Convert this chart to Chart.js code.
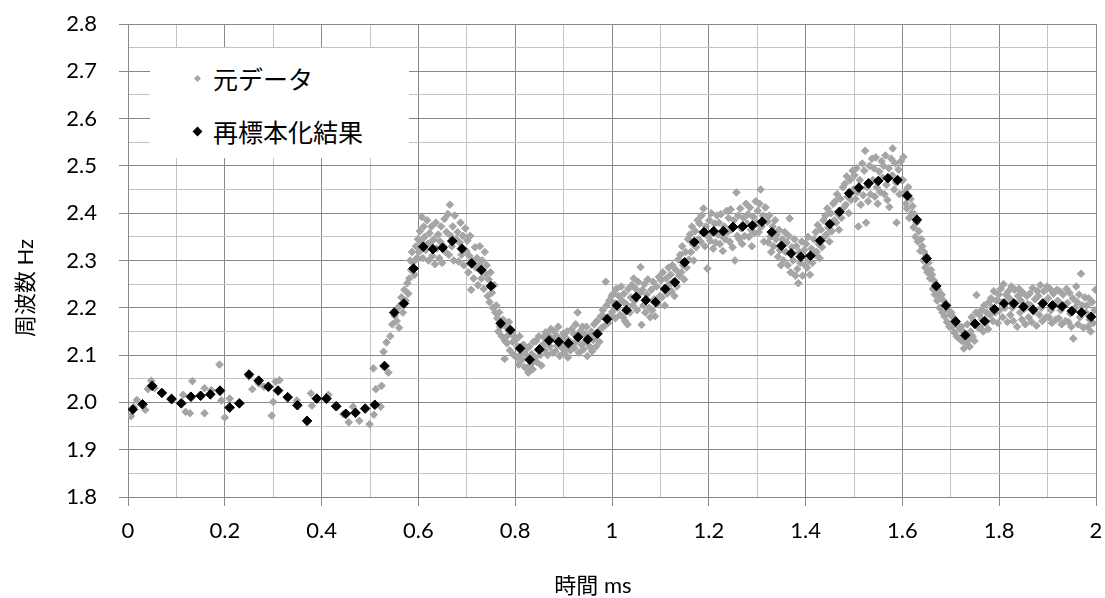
<!DOCTYPE html>
<html>
<head>
<meta charset="utf-8">
<script src="https://cdn.jsdelivr.net/npm/chart.js@4"></script>
<style>
  body { margin: 0; background: #fff; }
  #wrap { position: relative; width: 1105px; height: 598px; }
  #legend {
    position: absolute; left: 150px; top: 48px; width: 259px; height: 110px;
    background: #fff; font: 25px "Noto Sans CJK JP", sans-serif; color: #000;
  }
  #legend .row { position: absolute; left: 0; height: 30px; line-height: 30px; }
  #legend .mark { position: absolute; transform: rotate(45deg); }
  #legend .label { position: absolute; left: 63px; top: 0; white-space: nowrap; }
</style>
</head>
<body>
<div id="wrap">
  <canvas id="freqChart" width="1105" height="598"></canvas>
  <div id="legend"></div>
</div>
<script>
// Axis titles and legend labels
const xTitle = "時間 ms";
const yTitle = "周波数 Hz";
const rawLabel = "元データ";
const resampledLabel = "再標本化結果";

// Resampled result, one point every 0.02 ms
const resampledTime = [
  0.01, 0.03, 0.05, 0.07, 0.09, 0.11, 0.13, 0.15, 0.17, 0.19,
  0.21, 0.23, 0.25, 0.27, 0.29, 0.31, 0.33, 0.35, 0.37, 0.39,
  0.41, 0.43, 0.45, 0.47, 0.49, 0.51, 0.53, 0.55, 0.57, 0.59,
  0.61, 0.63, 0.65, 0.67, 0.69, 0.71, 0.73, 0.75, 0.77, 0.79,
  0.81, 0.83, 0.85, 0.87, 0.89, 0.91, 0.93, 0.95, 0.97, 0.99,
  1.01, 1.03, 1.05, 1.07, 1.09, 1.11, 1.13, 1.15, 1.17, 1.19,
  1.21, 1.23, 1.25, 1.27, 1.29, 1.31, 1.33, 1.35, 1.37, 1.39,
  1.41, 1.43, 1.45, 1.47, 1.49, 1.51, 1.53, 1.55, 1.57, 1.59,
  1.61, 1.63, 1.65, 1.67, 1.69, 1.71, 1.73, 1.75, 1.77, 1.79,
  1.81, 1.83, 1.85, 1.87, 1.89, 1.91, 1.93, 1.95, 1.97, 1.99
];
const resampledFreq = [
  1.985, 1.996, 2.035, 2.020, 2.007, 1.998, 2.012, 2.014, 2.017, 2.025,
  1.989, 1.998, 2.059, 2.046, 2.033, 2.025, 2.011, 1.994, 1.961, 2.008,
  2.008, 1.992, 1.976, 1.978, 1.987, 1.995, 2.077, 2.190, 2.209, 2.283,
  2.329, 2.324, 2.327, 2.341, 2.325, 2.294, 2.280, 2.246, 2.167, 2.153,
  2.114, 2.090, 2.112, 2.131, 2.128, 2.125, 2.138, 2.133, 2.145, 2.176,
  2.205, 2.195, 2.223, 2.216, 2.212, 2.240, 2.254, 2.296, 2.339, 2.360,
  2.362, 2.362, 2.371, 2.372, 2.374, 2.382, 2.360, 2.331, 2.315, 2.308,
  2.310, 2.342, 2.377, 2.403, 2.442, 2.454, 2.463, 2.468, 2.474, 2.470,
  2.437, 2.386, 2.304, 2.246, 2.205, 2.171, 2.142, 2.166, 2.172, 2.197,
  2.209, 2.209, 2.202, 2.196, 2.209, 2.205, 2.203, 2.193, 2.190, 2.181
];

// Raw measurements [time ms, frequency Hz]
const rawPoints = [
  [0.006,1.971],[0.012,1.990],[0.018,2.005],[0.036,1.984],[0.041,2.028],[0.048,2.046],[0.055,2.030],[0.090,2.010],
  [0.114,2.016],[0.119,1.980],[0.128,1.977],[0.133,2.045],[0.150,2.015],[0.158,1.977],[0.158,2.030],[0.172,2.026],
  [0.189,2.080],[0.190,2.022],[0.193,2.004],[0.200,1.968],[0.210,2.008],[0.250,2.055],[0.257,2.028],[0.270,2.040],
  [0.281,2.033],[0.297,1.972],[0.300,2.001],[0.305,2.044],[0.313,2.047],[0.330,2.012],[0.349,2.004],[0.378,2.019],
  [0.380,1.993],[0.410,2.005],[0.414,2.016],[0.433,1.991],[0.445,1.975],[0.456,1.958],[0.465,1.991],[0.478,1.961],
  [0.499,1.954],[0.507,2.072],[0.508,1.974],[0.512,2.028],[0.522,1.991],[0.524,2.035],[0.528,2.107],[0.534,2.127],
  [0.538,2.063],
  [0.542,2.140],[0.546,2.165],[0.551,2.183],[0.555,2.172],[0.558,2.200],[0.560,2.158],
  [0.562,2.205],[0.565,2.222],[0.568,2.190],[0.571,2.238],[0.574,2.215],[0.577,2.252],[0.579,2.230],
  [0.581,2.262],[0.583,2.300],[0.585,2.280],[0.587,2.318],[0.589,2.296],[0.592,2.270],[0.595,2.330],[0.597,2.305],[0.599,2.345],
  [0.601,2.318],[0.603,2.362],[0.605,2.340],[0.607,2.392],[0.609,2.305],[0.611,2.372],[0.613,2.350],[0.615,2.322],[0.618,2.385],[0.619,2.335],
  [0.621,2.300],[0.623,2.358],[0.625,2.338],[0.627,2.372],[0.629,2.310],[0.632,2.345],[0.634,2.292],[0.636,2.380],[0.638,2.325],
  [0.641,2.355],[0.643,2.305],[0.645,2.340],[0.647,2.372],[0.649,2.295],[0.652,2.330],[0.654,2.388],[0.656,2.318],[0.658,2.360],
  [0.661,2.398],[0.663,2.312],[0.665,2.418],[0.667,2.352],[0.669,2.330],[0.671,2.372],[0.673,2.300],[0.675,2.395],[0.678,2.345],
  [0.681,2.360],[0.683,2.298],[0.685,2.338],[0.687,2.380],[0.689,2.312],[0.692,2.352],[0.694,2.290],[0.697,2.368],[0.699,2.320],
  [0.701,2.342],[0.703,2.275],[0.705,2.310],[0.707,2.352],[0.709,2.238],[0.712,2.300],[0.714,2.262],[0.717,2.328],[0.719,2.285],
  [0.721,2.305],[0.723,2.248],[0.725,2.290],[0.727,2.330],[0.730,2.262],[0.732,2.300],[0.735,2.240],[0.737,2.318],[0.739,2.272],
  [0.741,2.290],[0.743,2.225],[0.745,2.260],[0.747,2.212],[0.749,2.275],[0.752,2.232],[0.754,2.200],[0.757,2.248],[0.759,2.190],
  [0.761,2.205],[0.763,2.178],[0.765,2.150],[0.767,2.190],[0.769,2.160],[0.772,2.140],[0.775,2.175],[0.778,2.092],[0.779,2.130],
  [0.781,2.160],[0.783,2.125],[0.785,2.142],[0.787,2.170],[0.789,2.110],[0.792,2.150],[0.795,2.128],[0.797,2.100],[0.799,2.138],
  [0.801,2.132],[0.803,2.095],[0.805,2.118],[0.807,2.080],[0.809,2.140],[0.812,2.102],[0.814,2.090],[0.817,2.122],[0.819,2.075],
  [0.821,2.110],[0.823,2.072],[0.825,2.098],[0.827,2.063],[0.829,2.118],[0.832,2.080],[0.834,2.102],[0.836,2.070],[0.838,2.128],
  [0.841,2.095],[0.843,2.130],[0.845,2.085],[0.847,2.110],[0.849,2.140],[0.852,2.100],[0.854,2.078],[0.857,2.122],[0.859,2.138],
  [0.861,2.110],[0.863,2.148],[0.865,2.125],[0.867,2.100],[0.869,2.142],[0.872,2.118],[0.874,2.155],[0.877,2.105],[0.879,2.135],
  [0.881,2.150],[0.883,2.108],[0.885,2.140],[0.887,2.120],[0.889,2.160],[0.892,2.098],[0.894,2.132],[0.897,2.115],[0.899,2.145],
  [0.901,2.105],[0.903,2.138],[0.905,2.118],[0.907,2.150],[0.909,2.095],[0.912,2.130],[0.914,2.110],[0.917,2.155],[0.919,2.122],
  [0.921,2.145],[0.923,2.115],[0.925,2.165],[0.927,2.130],[0.929,2.190],[0.932,2.105],[0.934,2.150],[0.937,2.122],[0.939,2.160],
  [0.941,2.112],[0.943,2.145],[0.945,2.128],[0.947,2.160],[0.949,2.098],[0.952,2.138],[0.954,2.118],[0.957,2.150],[0.959,2.108],
  [0.961,2.132],[0.963,2.165],[0.965,2.140],[0.967,2.118],[0.969,2.172],[0.972,2.150],[0.974,2.128],[0.977,2.182],[0.979,2.158],
  [0.981,2.195],[0.983,2.160],[0.985,2.180],[0.987,2.255],[0.989,2.205],[0.992,2.168],[0.994,2.215],[0.997,2.185],[0.999,2.225],
  [1.001,2.192],[1.003,2.230],[1.005,2.210],[1.007,2.178],[1.009,2.240],[1.012,2.200],[1.014,2.225],[1.017,2.185],[1.019,2.245],
  [1.021,2.215],[1.023,2.180],[1.025,2.230],[1.027,2.172],[1.029,2.208],[1.032,2.165],[1.034,2.240],[1.037,2.190],[1.039,2.222],
  [1.041,2.248],[1.043,2.205],[1.045,2.262],[1.047,2.215],[1.049,2.240],[1.052,2.195],[1.054,2.255],[1.057,2.230],[1.059,2.286],
  [1.061,2.164],[1.063,2.238],[1.065,2.205],[1.067,2.250],[1.069,2.190],[1.072,2.228],[1.074,2.260],[1.077,2.200],[1.079,2.180],
  [1.081,2.238],[1.083,2.195],[1.085,2.255],[1.087,2.218],[1.089,2.182],[1.092,2.245],[1.094,2.208],[1.097,2.265],[1.099,2.225],
  [1.101,2.258],[1.103,2.222],[1.105,2.275],[1.107,2.240],[1.109,2.205],[1.112,2.262],[1.114,2.230],[1.117,2.285],[1.119,2.250],
  [1.121,2.270],[1.123,2.235],[1.125,2.290],[1.127,2.255],[1.129,2.225],[1.132,2.280],[1.134,2.245],[1.137,2.302],[1.139,2.268],
  [1.141,2.312],[1.143,2.275],[1.145,2.330],[1.147,2.290],[1.149,2.260],[1.152,2.318],[1.154,2.285],[1.157,2.345],[1.159,2.302],
  [1.161,2.355],[1.163,2.318],[1.165,2.372],[1.167,2.335],[1.169,2.300],[1.172,2.362],[1.174,2.328],[1.177,2.385],[1.179,2.345],
  [1.181,2.378],[1.183,2.340],[1.185,2.395],[1.187,2.358],[1.189,2.410],[1.192,2.330],[1.194,2.372],[1.197,2.283],[1.199,2.350],
  [1.201,2.385],[1.203,2.342],[1.205,2.400],[1.207,2.360],[1.209,2.325],[1.212,2.378],[1.214,2.338],[1.217,2.395],[1.219,2.355],
  [1.221,2.380],[1.223,2.335],[1.225,2.398],[1.227,2.352],[1.229,2.320],[1.232,2.372],[1.234,2.345],[1.237,2.405],[1.239,2.360],
  [1.241,2.390],[1.243,2.340],[1.245,2.408],[1.247,2.365],[1.249,2.328],[1.252,2.385],[1.254,2.300],[1.257,2.444],[1.259,2.352],
  [1.261,2.395],[1.263,2.345],[1.265,2.410],[1.267,2.368],[1.269,2.335],[1.272,2.390],[1.274,2.352],[1.277,2.420],[1.279,2.378],
  [1.281,2.398],[1.283,2.350],[1.285,2.412],[1.287,2.365],[1.289,2.330],[1.292,2.392],[1.294,2.358],[1.297,2.425],[1.299,2.380],
  [1.301,2.405],[1.303,2.360],[1.305,2.420],[1.307,2.450],[1.309,2.372],[1.312,2.395],[1.314,2.340],[1.317,2.412],[1.319,2.385],
  [1.321,2.382],[1.323,2.338],[1.325,2.395],[1.327,2.350],[1.329,2.318],[1.332,2.372],[1.334,2.330],[1.337,2.385],[1.339,2.345],
  [1.341,2.355],[1.343,2.308],[1.345,2.365],[1.347,2.322],[1.349,2.290],[1.352,2.345],[1.354,2.300],[1.357,2.360],[1.359,2.318],
  [1.361,2.338],[1.363,2.290],[1.365,2.352],[1.367,2.389],[1.369,2.275],[1.372,2.328],[1.374,2.300],[1.377,2.345],[1.379,2.268],
  [1.381,2.330],[1.383,2.282],[1.385,2.252],[1.387,2.318],[1.389,2.295],[1.392,2.340],[1.394,2.268],[1.397,2.322],[1.399,2.290],
  [1.401,2.335],[1.403,2.285],[1.405,2.350],[1.407,2.300],[1.409,2.270],[1.412,2.325],[1.414,2.295],[1.417,2.345],[1.419,2.312],
  [1.421,2.360],[1.423,2.318],[1.425,2.375],[1.427,2.335],[1.429,2.305],[1.432,2.365],[1.434,2.328],[1.437,2.385],[1.439,2.350],
  [1.441,2.395],[1.443,2.355],[1.445,2.410],[1.447,2.370],[1.449,2.340],[1.452,2.400],[1.454,2.362],[1.457,2.420],[1.459,2.385],
  [1.461,2.425],[1.463,2.380],[1.465,2.440],[1.467,2.398],[1.469,2.365],[1.472,2.430],[1.474,2.390],[1.477,2.455],[1.479,2.412],
  [1.481,2.462],[1.483,2.418],[1.485,2.478],[1.487,2.435],[1.489,2.400],[1.492,2.470],[1.494,2.428],[1.497,2.490],[1.499,2.450],
  [1.501,2.480],[1.503,2.430],[1.505,2.495],[1.507,2.445],[1.509,2.372],[1.512,2.470],[1.514,2.418],[1.517,2.505],[1.519,2.438],
  [1.521,2.490],[1.523,2.532],[1.525,2.380],[1.527,2.455],[1.529,2.425],[1.532,2.500],[1.534,2.440],[1.537,2.515],[1.539,2.470],
  [1.541,2.495],[1.543,2.435],[1.545,2.518],[1.547,2.455],[1.549,2.420],[1.552,2.488],[1.554,2.445],[1.557,2.510],[1.559,2.475],
  [1.561,2.500],[1.563,2.440],[1.565,2.522],[1.567,2.460],[1.569,2.428],[1.572,2.495],[1.573,2.413],[1.577,2.515],[1.579,2.480],
  [1.580,2.537],[1.583,2.450],[1.585,2.505],[1.587,2.465],[1.588,2.380],[1.592,2.492],[1.594,2.440],[1.597,2.510],[1.599,2.470],
  [1.601,2.470],[1.602,2.519],[1.605,2.445],[1.607,2.420],[1.609,2.410],[1.612,2.455],[1.614,2.390],[1.617,2.430],[1.619,2.400],
  [1.621,2.415],[1.623,2.370],[1.625,2.398],[1.627,2.350],[1.629,2.380],[1.632,2.340],[1.634,2.362],[1.637,2.320],[1.639,2.345],
  [1.641,2.330],[1.643,2.300],[1.645,2.318],[1.647,2.285],[1.649,2.310],[1.652,2.275],[1.654,2.295],[1.657,2.262],[1.659,2.280],
  [1.661,2.270],[1.663,2.240],[1.665,2.258],[1.667,2.228],[1.669,2.250],[1.672,2.215],[1.674,2.238],[1.677,2.200],[1.679,2.225],
  [1.681,2.228],[1.683,2.190],[1.685,2.215],[1.687,2.182],[1.689,2.205],[1.692,2.170],[1.694,2.195],[1.697,2.160],[1.699,2.185],
  [1.701,2.190],[1.703,2.160],[1.705,2.180],[1.707,2.148],[1.709,2.170],[1.712,2.140],[1.714,2.162],[1.717,2.135],[1.719,2.155],
  [1.721,2.160],[1.723,2.130],[1.725,2.150],[1.727,2.114],[1.729,2.142],[1.732,2.125],[1.734,2.165],[1.737,2.132],[1.739,2.118],
  [1.741,2.150],[1.743,2.180],[1.745,2.140],[1.747,2.172],[1.749,2.130],[1.752,2.190],[1.753,2.227],[1.757,2.158],[1.759,2.185],
  [1.761,2.160],[1.763,2.195],[1.765,2.175],[1.767,2.150],[1.769,2.205],[1.772,2.168],[1.774,2.190],[1.777,2.155],[1.779,2.212],
  [1.781,2.185],[1.783,2.220],[1.785,2.200],[1.787,2.172],[1.789,2.235],[1.792,2.190],[1.794,2.215],[1.797,2.168],[1.799,2.228],
  [1.801,2.195],[1.803,2.240],[1.805,2.212],[1.807,2.180],[1.809,2.250],[1.812,2.200],[1.814,2.228],[1.817,2.170],[1.819,2.235],
  [1.821,2.220],[1.823,2.185],[1.825,2.245],[1.827,2.200],[1.829,2.172],[1.832,2.238],[1.834,2.210],[1.837,2.160],[1.839,2.225],
  [1.841,2.240],[1.843,2.190],[1.845,2.215],[1.847,2.175],[1.849,2.232],[1.852,2.198],[1.854,2.165],[1.857,2.225],[1.859,2.208],
  [1.861,2.180],[1.863,2.230],[1.865,2.205],[1.867,2.170],[1.869,2.242],[1.872,2.192],[1.874,2.218],[1.877,2.162],[1.879,2.235],
  [1.881,2.225],[1.883,2.185],[1.885,2.248],[1.887,2.200],[1.889,2.172],[1.892,2.235],[1.894,2.212],[1.897,2.180],[1.899,2.245],
  [1.901,2.220],[1.903,2.180],[1.905,2.240],[1.907,2.195],[1.909,2.168],[1.912,2.230],[1.914,2.208],[1.917,2.175],[1.919,2.238],
  [1.921,2.215],[1.923,2.178],[1.925,2.235],[1.927,2.195],[1.929,2.165],[1.932,2.228],[1.934,2.205],[1.937,2.172],[1.939,2.240],
  [1.941,2.210],[1.943,2.170],[1.945,2.232],[1.947,2.188],[1.949,2.160],[1.952,2.220],[1.953,2.135],[1.957,2.200],[1.959,2.245],
  [1.961,2.212],[1.963,2.165],[1.965,2.228],[1.967,2.180],[1.969,2.272],[1.972,2.205],[1.974,2.158],[1.977,2.222],[1.979,2.190],
  [1.981,2.205],[1.983,2.160],[1.985,2.220],[1.987,2.175],[1.989,2.150],[1.992,2.212],[1.994,2.168],[1.997,2.195],[1.999,2.238]
];

const rawColor = '#a5a5a5';
const resampledColor = '#000000';
const majorGrid = '#878787';
const minorGrid = '#c3c3c3';
const tickFont = { family: 'Lato, "Noto Sans CJK JP", sans-serif', size: 22 };

// x grid every 0.1, labelled every 0.2; y grid every 0.05, labelled every 0.1
function isMajorX(v) { return Math.round(v * 10) % 2 === 0; }
function isMajorY(v) { return Math.round(v * 20) % 2 === 0; }

const axisTitles = {
  id: 'axisTitles',
  afterDraw(chart) {
    const ctx = chart.ctx;
    ctx.save();
    ctx.fillStyle = '#000';
    ctx.font = '22px Lato, "Noto Sans CJK JP", sans-serif';
    ctx.textAlign = 'center';
    ctx.textBaseline = 'middle';
    ctx.fillText(xTitle, 593, 586);
    ctx.translate(26, 288);
    ctx.rotate(-Math.PI / 2);
    ctx.fillText(yTitle, 0, 0);
    ctx.restore();
  }
};

const chart = new Chart(document.getElementById('freqChart'), {
  type: 'scatter',
  data: {
    datasets: [{
      label: resampledLabel,
      data: resampledTime.map((t, i) => ({ x: t, y: resampledFreq[i] })),
      pointStyle: 'rectRot',
      pointRadius: 4.8,
      borderWidth: 1,
      backgroundColor: resampledColor,
      borderColor: resampledColor,
      order: 1
    }, {
      label: rawLabel,
      data: rawPoints.map(p => ({ x: p[0], y: p[1] })),
      pointStyle: 'rectRot',
      pointRadius: 3.8,
      borderWidth: 1,
      backgroundColor: rawColor,
      borderColor: rawColor,
      order: 2
    }]
  },
  options: {
    responsive: false,
    animation: false,
    devicePixelRatio: 1,
    layout: { padding: { left: 0, top: 24, right: 9, bottom: 0 } },
    plugins: { legend: { display: false }, tooltip: { enabled: false } },
    scales: {
      x: {
        type: 'linear', min: 0, max: 2,
        border: { color: majorGrid },
        grid: {
          color: c => isMajorX(c.tick.value) ? majorGrid : minorGrid,
          tickColor: c => isMajorX(c.tick.value) ? majorGrid : 'rgba(0,0,0,0)',
          tickLength: 9
        },
        ticks: {
          stepSize: 0.1, autoSkip: false, maxRotation: 0, padding: 12,
          color: '#000', font: tickFont,
          callback: v => isMajorX(v) ? String(Number(v.toFixed(1))) : ''
        },
        afterFit: s => { s.height = 101; s.paddingLeft = 0; s.paddingRight = 0; }
      },
      y: {
        type: 'linear', min: 1.8, max: 2.8,
        border: { color: majorGrid },
        grid: {
          color: c => isMajorY(c.tick.value) ? majorGrid : minorGrid,
          tickColor: c => isMajorY(c.tick.value) ? majorGrid : 'rgba(0,0,0,0)',
          tickLength: 9
        },
        ticks: {
          stepSize: 0.05, autoSkip: false, padding: 22,
          color: '#000', font: tickFont,
          callback: v => isMajorY(v) ? v.toFixed(1) : ''
        },
        afterFit: s => { s.width = 128; s.paddingTop = 0; s.paddingBottom = 0; }
      }
    }
  },
  plugins: [axisTitles]
});

// Legend box inside the plot, raw data listed first
const legend = document.getElementById('legend');
const legendItems = [
  { ds: chart.data.datasets[1], top: 15, size: 5 },
  { ds: chart.data.datasets[0], top: 68, size: 7 }
];
legendItems.forEach(item => {
  const row = document.createElement('div');
  row.className = 'row';
  row.style.top = item.top + 'px';
  row.style.width = '259px';
  const mark = document.createElement('span');
  mark.className = 'mark';
  mark.style.width = item.size + 'px';
  mark.style.height = item.size + 'px';
  mark.style.left = (47 - item.size / 2) + 'px';
  mark.style.top = (15 - item.size / 2) + 'px';
  mark.style.background = item.ds.backgroundColor;
  const text = document.createElement('span');
  text.className = 'label';
  text.textContent = item.ds.label;
  row.appendChild(mark);
  row.appendChild(text);
  legend.appendChild(row);
});
</script>
</body>
</html>
